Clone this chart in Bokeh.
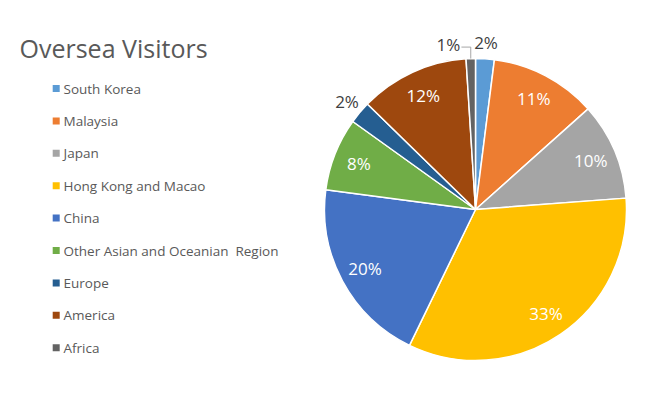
import math
from bokeh.plotting import figure
from bokeh.models import Range1d, ColumnDataSource
from bokeh.core.properties import value
from bokeh.embed import file_html
from bokeh.resources import INLINE

# ---- data ----
categories = ["South Korea", "Malaysia", "Japan", "Hong Kong and Macao", "China",
              "Other Asian and Oceanian  Region", "Europe", "America", "Africa"]
shares = [2.0, 11.4, 10.4, 33.4, 19.9, 7.8, 2.4, 11.7, 1.0]
colors = ["#5B9BD5", "#ED7D31", "#A5A5A5", "#FFC000", "#4472C4",
          "#70AD47", "#255E91", "#9E480E", "#636363"]
title_text = "Oversea Visitors"

# ---- layout (pixels) ----
W, H = 648, 382
CX, CY, R = 475, 173, 151
FONT = "Open Sans"
GRAY = "#595959"

p = figure(width=W, height=H, output_backend="svg", toolbar_location=None,
           x_range=Range1d(0, W), y_range=Range1d(0, H), min_border=0)
p.axis.visible = False
p.grid.visible = False
p.outline_line_color = None
p.background_fill_color = "white"

total = sum(shares)
starts, ends, mids = [], [], []
cum = 0.0
for s in shares:
    a0 = cum / total
    cum += s
    a1 = cum / total
    starts.append(math.pi / 2 - a0 * 2 * math.pi)
    ends.append(math.pi / 2 - a1 * 2 * math.pi)
    mids.append(math.pi / 2 - (a0 + a1) / 2 * 2 * math.pi)

src = ColumnDataSource(dict(start=starts, end=ends, color=colors))
p.wedge(x=CX, y=CY, radius=R, start_angle="start", end_angle="end",
        direction="clock", fill_color="color", line_color="white",
        line_width=1.5, source=src)

# ---- percentage labels ----
in_x, in_y, in_t = [], [], []
out_x, out_y, out_t = [], [], []
for i, s in enumerate(shares):
    pct = f"{round(s / total * 100)}%"
    if s / total >= 0.03:
        in_x.append(CX + 0.83 * R * math.cos(mids[i]))
        in_y.append(CY + 0.83 * R * math.sin(mids[i]))
        in_t.append(pct)
    else:
        ang = mids[i]
        if categories[i] == "Africa":
            ang = mids[i] + math.radians(7.5)
            # leader line
            lx = CX + 1.11 * R * math.cos(ang) + 13
            ly = CY + 1.11 * R * math.sin(ang) - 3
            ex = CX + R * math.cos(mids[i])
            ey = CY + R * math.sin(mids[i])
            p.line([lx, ex, ex], [ly, ly, ey], line_color="#A6A6A6", line_width=1)
        out_x.append(CX + 1.11 * R * math.cos(ang))
        out_y.append(CY + 1.11 * R * math.sin(ang))
        out_t.append(pct)

p.text(x=in_x, y=in_y, text=in_t, text_font=value(FONT), text_font_size="17px",
       text_color="white", text_align="center", text_baseline="middle")
p.text(x=out_x, y=out_y, text=out_t, text_font=value(FONT), text_font_size="17px",
       text_color="#404040", text_align="center", text_baseline="middle")

# ---- title ----
p.text(x=[19], y=[335], text=[title_text], text_font=value(FONT),
       text_font_size="25px", text_color=GRAY, text_align="left",
       text_baseline="middle")

# ---- legend ----
ly0, step = 294, 32.4
leg_y = [ly0 - i * step for i in range(len(categories))]
shown = [c.replace("  ", "\u00a0 ") for c in categories]
p.rect(x=[55.7] * len(categories), y=leg_y, width=7, height=7,
       fill_color=colors, line_color=None)
p.text(x=[63] * len(categories), y=leg_y, text=shown, text_font=value(FONT),
       text_font_size="13.5px", text_color=GRAY, text_align="left",
       text_baseline="middle")

open("out.html", "w").write(file_html(p, INLINE))
